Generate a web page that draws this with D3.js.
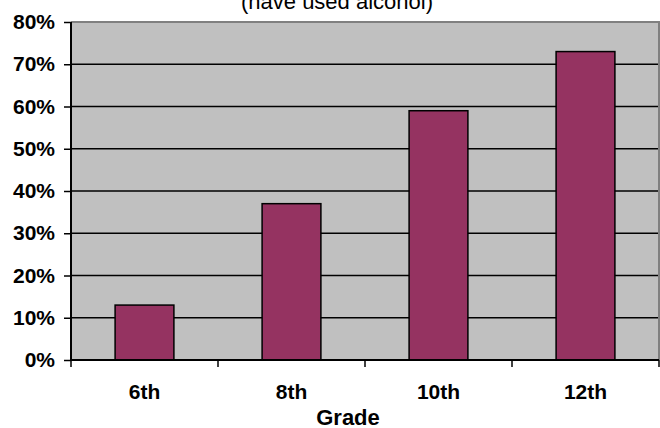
<!DOCTYPE html>
<html>
<head>
<meta charset="utf-8">
<script src="https://cdn.jsdelivr.net/npm/d3@7"></script>
<style>
  html, body { margin: 0; padding: 0; background: #fff; }
  svg { display: block; }
</style>
</head>
<body>
<div id="chart"></div>
<script>
const grades = ['6th', '8th', '10th', '12th'];
const percentUsed = [13, 37, 59, 73];
const yTicks = [0, 10, 20, 30, 40, 50, 60, 70, 80];
const titleText = '(have used alcohol)';
const xTitle = 'Grade';

const width = 660;
const height = 428;
const margin = { top: 22, right: 1, bottom: 68, left: 71 };
const font = 'Arial, "Liberation Sans", sans-serif';

const x = d3.scaleBand()
  .domain(grades)
  .range([margin.left, width - margin.right])
  .paddingInner(0.6)
  .paddingOuter(0.3);

const y = d3.scaleLinear()
  .domain([0, 80])
  .range([height - margin.bottom, margin.top]);

const svg = d3.select('#chart')
  .append('svg')
  .attr('width', width)
  .attr('height', height)
  .style('font-family', font);

// plot background
svg.append('rect')
  .attr('x', margin.left)
  .attr('y', margin.top)
  .attr('width', width - margin.right - margin.left)
  .attr('height', y(0) - margin.top)
  .attr('fill', '#c0c0c0');

// grid lines
svg.append('g')
  .selectAll('line')
  .data(yTicks.filter(d => d > 0 && d < 80))
  .join('line')
  .attr('x1', margin.left)
  .attr('x2', width - margin.right)
  .attr('y1', d => y(d))
  .attr('y2', d => y(d))
  .attr('stroke', '#000')
  .attr('stroke-width', 1.5);

// top and right border
svg.append('path')
  .attr('d', `M${margin.left},${y(80)}H${width - margin.right}V${y(0)}`)
  .attr('fill', 'none')
  .attr('stroke', '#808080')
  .attr('stroke-width', 2);

// bars
svg.append('g')
  .selectAll('rect')
  .data(grades.map((g, i) => ({ grade: g, value: percentUsed[i] })))
  .join('rect')
  .attr('x', d => x(d.grade))
  .attr('y', d => y(d.value))
  .attr('width', x.bandwidth())
  .attr('height', d => y(0) - y(d.value))
  .attr('fill', '#953361')
  .attr('stroke', '#000')
  .attr('stroke-width', 1.5);

// y axis
const yAxis = g => g
  .attr('transform', `translate(${margin.left},0)`)
  .call(d3.axisLeft(y)
    .tickValues(yTicks)
    .tickSize(7)
    .tickPadding(9)
    .tickFormat(d => d + '%'))
  .call(g => g.select('.domain')
    .attr('d', `M0,${y(80)}V${y(0)}`)
    .attr('stroke-width', 2))
  .call(g => g.selectAll('.tick line').attr('stroke-width', 1.5))
  .call(g => g.selectAll('.tick text')
    .style('font', `bold 21px ${font}`)
    .attr('fill', '#000'));

svg.append('g').call(yAxis);

// x axis
const step = x.step();
const boundaries = grades.map(g => x(g) - step * x.paddingInner() / 2);
boundaries.push(width - margin.right);

const xAxis = g => g
  .call(g => g.append('line')
    .attr('x1', margin.left)
    .attr('x2', width - margin.right)
    .attr('y1', y(0))
    .attr('y2', y(0))
    .attr('stroke', '#000')
    .attr('stroke-width', 2))
  .call(g => g.selectAll('line.tick')
    .data(boundaries)
    .join('line')
    .attr('class', 'tick')
    .attr('x1', d => d)
    .attr('x2', d => d)
    .attr('y1', y(0))
    .attr('y2', y(0) + 7)
    .attr('stroke', '#000')
    .attr('stroke-width', 1.5))
  .call(g => g.selectAll('text')
    .data(grades)
    .join('text')
    .attr('x', d => x(d) + x.bandwidth() / 2)
    .attr('y', 399)
    .attr('text-anchor', 'middle')
    .style('font', `bold 21px ${font}`)
    .text(d => d));

svg.append('g').call(xAxis);

// axis title
svg.append('text')
  .attr('x', 348)
  .attr('y', 425)
  .attr('text-anchor', 'middle')
  .style('font', `bold 22px ${font}`)
  .text(xTitle);

// chart title (cropped at top, as in the original)
svg.append('text')
  .attr('x', 337)
  .attr('y', 9)
  .attr('text-anchor', 'middle')
  .style('font', `22px ${font}`)
  .text(titleText);
</script>
</body>
</html>
